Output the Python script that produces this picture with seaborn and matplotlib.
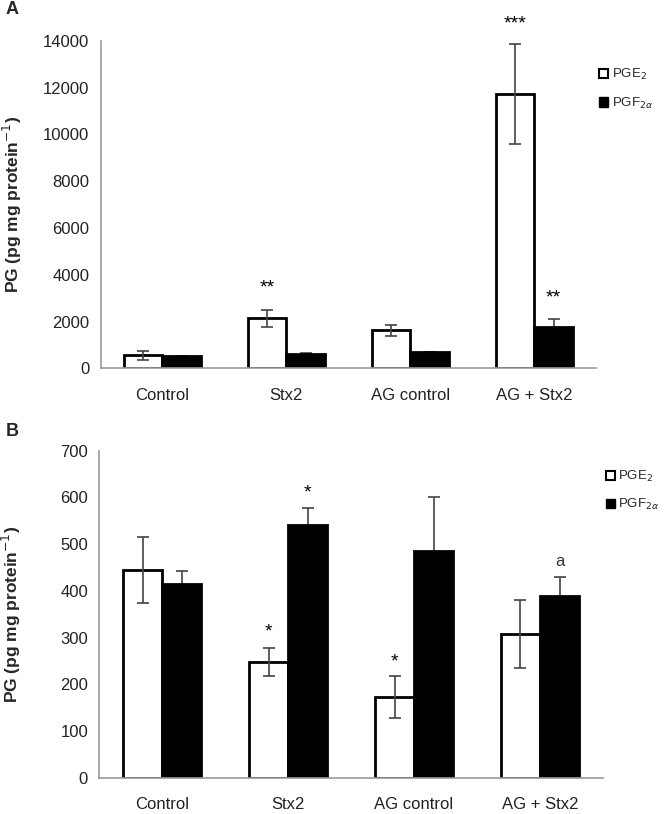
import numpy as np
import pandas as pd
import seaborn as sns
import matplotlib.pyplot as plt
from matplotlib.patches import Patch

# données
groups = ['Control', 'Stx2', 'AG control', 'AG + Stx2']

a_pge2 = [560, 2140, 1620, 11730]
a_pge2_err = [190, 355, 220, 2150]
a_pgf = [545, 600, 685, 1780]
a_pgf_err = [0, 70, 0, 330]

b_pge2 = [445, 247, 173, 307]
b_pge2_err = [70, 30, 45, 73]
b_pgf = [414, 542, 486, 389]
b_pgf_err = [29, 35, 114, 41]

a_ticks = [0, 2000, 4000, 6000, 8000, 10000, 12000, 14000]
b_ticks = [0, 100, 200, 300, 400, 500, 600, 700]

# annotations : (groupe, série, texte, hauteur)
a_marks = [(1, 0, '**', 3450), (3, 0, '***', 14700), (3, 1, '**', 3000)]
b_marks = [(1, 0, '*', 312), (1, 1, '*', 610), (2, 0, '*', 247), (3, 1, 'a', 462)]

sns.set_style('white')
plt.rcParams['font.family'] = ['Liberation Sans', 'DejaVu Sans']

fig = plt.figure(figsize=(6.7, 8.14), dpi=100)
ax_a = fig.add_axes([0.150, 0.5475, 0.740, 0.4025])
ax_b = fig.add_axes([0.148, 0.0446, 0.752, 0.4017])


def draw_panel(ax, pge2, pge2_err, pgf, pgf_err, ticks, marks, leg_y, lab_x):
    df = pd.DataFrame({
        'group': groups * 2,
        'pg': ['PGE2'] * 4 + ['PGF2a'] * 4,
        'value': pge2 + pgf,
    })
    sns.barplot(data=df, x='group', y='value', hue='pg', order=groups,
                palette=['white', 'black'], edgecolor='black', linewidth=2,
                width=0.62, errorbar=None, legend=False, ax=ax)
    # barres noires : erreur dessinée sous la barre, seule la partie haute se voit
    errs = [pge2_err, pgf_err]
    vals = [pge2, pgf]
    zs = [5, 0.5]
    for k, cont in enumerate(ax.containers[:2]):
        xs = [p.get_x() + p.get_width() / 2 for p in cont.patches]
        ax.errorbar(xs, vals[k], yerr=errs[k], fmt='none', ecolor='#444444',
                    elinewidth=1.2, capsize=4, capthick=1.2, zorder=zs[k])
    for gi, si, txt, y in marks:
        p = ax.containers[si].patches[gi]
        ax.text(p.get_x() + p.get_width() / 2, y, txt, ha='center', va='center',
                fontsize=14 if txt != 'a' else 12, color='black' if txt != 'a' else '#333333',
                clip_on=False)
    ax.set_ylim(ticks[0], ticks[-1])
    ax.set_yticks(ticks)
    ax.set_xlim(-0.5, 3.5)
    ax.set_xticks([-0.5, 0.5, 1.5, 2.5, 3.5])
    ax.set_xticklabels([])
    ax.set_xticks(range(4), minor=True)
    ax.set_xticklabels(groups, minor=True)
    ax.tick_params(axis='x', which='major', length=4, width=1, color='#999999', direction='out')
    ax.tick_params(axis='x', which='minor', length=0, pad=14, labelsize=12, labelcolor='#222222')
    ax.tick_params(axis='y', length=4, width=1, color='#999999', direction='out',
                   labelsize=12, labelcolor='#222222', pad=4)
    ax.set_xlabel('')
    ax.set_ylabel('PG (pg mg protein$^{-1}$)', fontsize=12.5, fontweight='bold')
    ax.yaxis.set_label_coords(lab_x, 0.5)
    for s in ['top', 'right']:
        ax.spines[s].set_visible(False)
    for s in ['left', 'bottom']:
        ax.spines[s].set_color('#999999')
        ax.spines[s].set_linewidth(1.2)
    handles = [Patch(facecolor='white', edgecolor='black', linewidth=1.5),
               Patch(facecolor='black', edgecolor='black')]
    ax.legend(handles, ['PGE$_2$', 'PGF$_{2α}$'], loc='upper left',
              bbox_to_anchor=(0.995, leg_y), frameon=False, fontsize=9.5,
              handlelength=0.7, handleheight=0.7, handletextpad=0.25,
              labelspacing=1.0, borderaxespad=0)


draw_panel(ax_a, a_pge2, a_pge2_err, a_pgf, a_pgf_err, a_ticks, a_marks, 0.935, -0.155)
draw_panel(ax_b, b_pge2, b_pge2_err, b_pgf, b_pgf_err, b_ticks, b_marks, 0.96, -0.152)

fig.text(0.008, 0.988, 'A', fontsize=13, fontweight='bold', va='center')
fig.text(0.008, 0.470, 'B', fontsize=13, fontweight='bold', va='center')

fig.savefig('out.png', dpi=100)
